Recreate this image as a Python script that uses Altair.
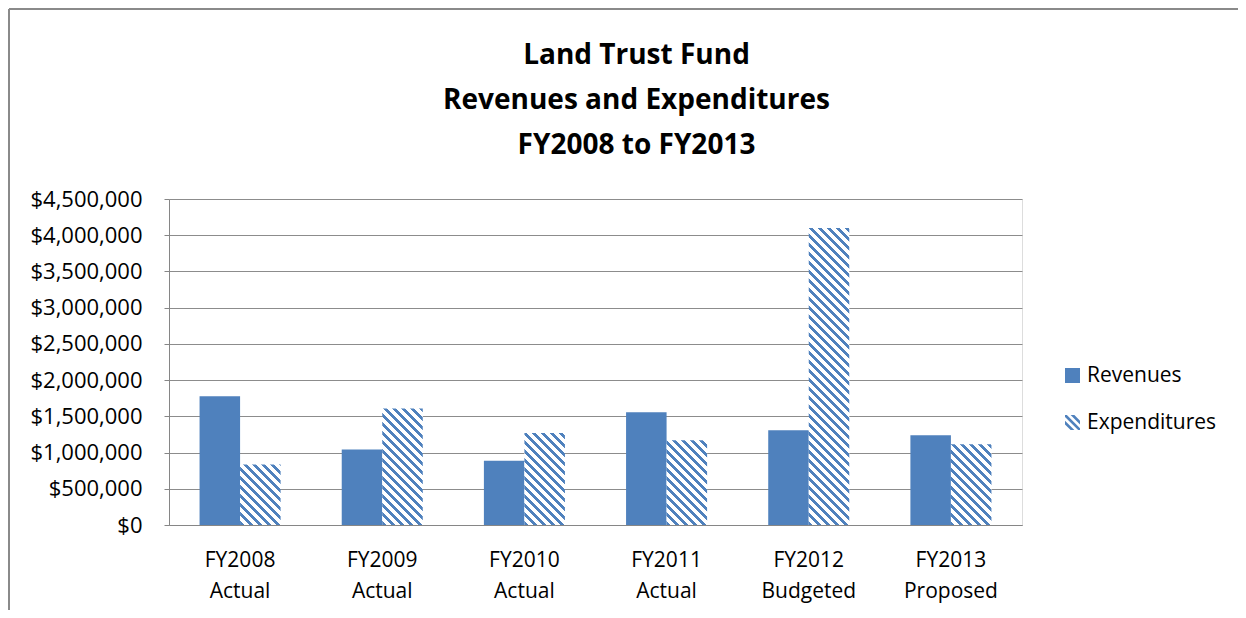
import altair as alt
import pandas as pd

# ---------------- data ----------------
categories = ["FY2008 Actual", "FY2009 Actual", "FY2010 Actual",
              "FY2011 Actual", "FY2012 Budgeted", "FY2013 Proposed"]
revenues = [1777000, 1043000, 886000, 1556000, 1309000, 1240000]
expenditures = [836000, 1607000, 1271000, 1171000, 4100000, 1116000]
series = ["Revenues", "Expenditures"]
y_ticks = [0, 500000, 1000000, 1500000, 2000000, 2500000, 3000000, 3500000, 4000000, 4500000]
title_lines = ["Land Trust Fund", "Revenues and Expenditures", "FY2008 to FY2013"]

# ---------------- style ----------------
BLUE = "#4F81BD"
FONT = "Open Sans"
W, H = 853, 326
PAD_L, PAD_T, PAD_R, PAD_B = 161, 191, 216, 85
YMAX = 4500000
PAD_IN, PAD_OUT = 0.43, 0.215
BAR_W = W / len(categories) * (1 - PAD_IN) / 2
PERIOD = 9.0       # horizontal stripe period (px)
FRAC = 0.45        # share of the period that is blue
FRAME = "#8a8a8a"

# legend icon for the hatched series (three "\" bands in a unit square)
HATCH_PATH = ("M-0.75,-1L1,0.75L1,1L0.75,1L-1,-0.75L-1,-1Z"
              "M-0.25,-1L0.25,-1L1,-0.25L1,0.25Z"
              "M-1,-0.25L0.25,1L-0.25,1L-1,0.25Z")

rows = []
for c, r, e in zip(categories, revenues, expenditures):
    rows.append({"category": c, "series": "Revenues", "value": r})
    rows.append({"category": c, "series": "Expenditures", "value": e})
df = pd.DataFrame(rows)


def hatch(value):
    """Diagonal-stripe fill made from a sharp-stop linear gradient."""
    h = max(value / YMAX * H, 1.0)
    w = BAR_W
    s = (w + h) / (w * w + h * h)
    span = w + h
    stops = []
    k = 0
    while k * PERIOD < span:
        a = min(k * PERIOD / span, 1.0)
        b = min((k + FRAC) * PERIOD / span, 1.0)
        c = min((k + 1) * PERIOD / span, 1.0)
        stops += [{"offset": a, "color": BLUE}, {"offset": b, "color": BLUE},
                  {"offset": b, "color": "#ffffff"}, {"offset": c, "color": "#ffffff"}]
        k += 1
    return alt.LinearGradient(gradient="linear", stops=stops,
                              x1=0, y1=1, x2=s * w, y2=1 - s * h)


x_enc = alt.X("category:N", sort=categories,
              scale=alt.Scale(paddingInner=PAD_IN, paddingOuter=PAD_OUT),
              axis=alt.Axis(title=None, labelAngle=0, labelExpr="split(datum.label, ' ')",
                            labelFont=FONT, labelFontSize=21, labelColor="#000000",
                            labelLineHeight=31, labelPadding=24, ticks=False,
                            domainColor="#868686", grid=False))
xoff = alt.XOffset("series:N", sort=series,
                   scale=alt.Scale(domain=series, paddingInner=0, paddingOuter=0))
y_enc = alt.Y("value:Q", scale=alt.Scale(domain=[0, YMAX], nice=False),
              axis=alt.Axis(title=None, values=y_ticks, format="$,.0f",
                            labelFont=FONT, labelFontSize=22, labelColor="#000000",
                            labelPadding=22, tickSize=5, tickColor="#868686",
                            domainColor="#868686", gridColor="#8c8c8c", gridWidth=1))

legend = alt.Legend(title=None, orient="none", legendX=893, legendY=166,
                    labelFont=FONT, labelFontSize=21, labelColor="#000000",
                    labelOffset=4, symbolSize=225, symbolStrokeWidth=0,
                    symbolOpacity=1, rowPadding=25, padding=0)

legend_layer = alt.Chart(df).mark_point(filled=True, opacity=0).encode(
    x=x_enc, xOffset=xoff, y=y_enc,
    color=alt.Color("series:N", sort=series,
                    scale=alt.Scale(domain=series, range=[BLUE, BLUE]), legend=legend),
    shape=alt.Shape("series:N", sort=series,
                    scale=alt.Scale(domain=series, range=["square", HATCH_PATH]), legend=legend),
)

rev_layer = alt.Chart(df).transform_filter(
    alt.datum.series == "Revenues"
).mark_bar(fill=BLUE, stroke=None).encode(x=x_enc, xOffset=xoff, y=y_enc)

exp_layers = []
for c, e in zip(categories, expenditures):
    exp_layers.append(
        alt.Chart(df).transform_filter(
            (alt.datum.series == "Expenditures") & (alt.datum.category == c)
        ).mark_bar(fill=hatch(e)).encode(x=x_enc, xOffset=xoff, y=y_enc)
    )

# decorative chart-area border (top and left edges, as in the reference)
frame_src = pd.DataFrame({"edge": ["frame"]})
frame_top = alt.Chart(frame_src).mark_rule(color=FRAME, strokeWidth=2).encode(
    x=alt.value(-PAD_L + 1), x2=alt.value(W + PAD_R), y=alt.value(-PAD_T + 1))
frame_left = alt.Chart(frame_src).mark_rule(color=FRAME, strokeWidth=2).encode(
    x=alt.value(-PAD_L + 1), y=alt.value(-PAD_T + 1), y2=alt.value(H + PAD_B))

chart = alt.layer(frame_top, frame_left, legend_layer, rev_layer, *exp_layers).properties(
    width=W, height=H,
    title=alt.TitleParams(title_lines, font=FONT, fontSize=28, fontWeight="bold",
                          lineHeight=45, anchor="middle", dx=41, offset=-152,
                          color="#000000"),
    autosize=alt.AutoSizeParams(type="none"),
    padding={"left": PAD_L, "top": PAD_T, "right": PAD_R, "bottom": PAD_B},
).configure_view(stroke=None).configure(background="#ffffff")

chart.save("out.html", embed_options={"renderer": "svg", "actions": False})
